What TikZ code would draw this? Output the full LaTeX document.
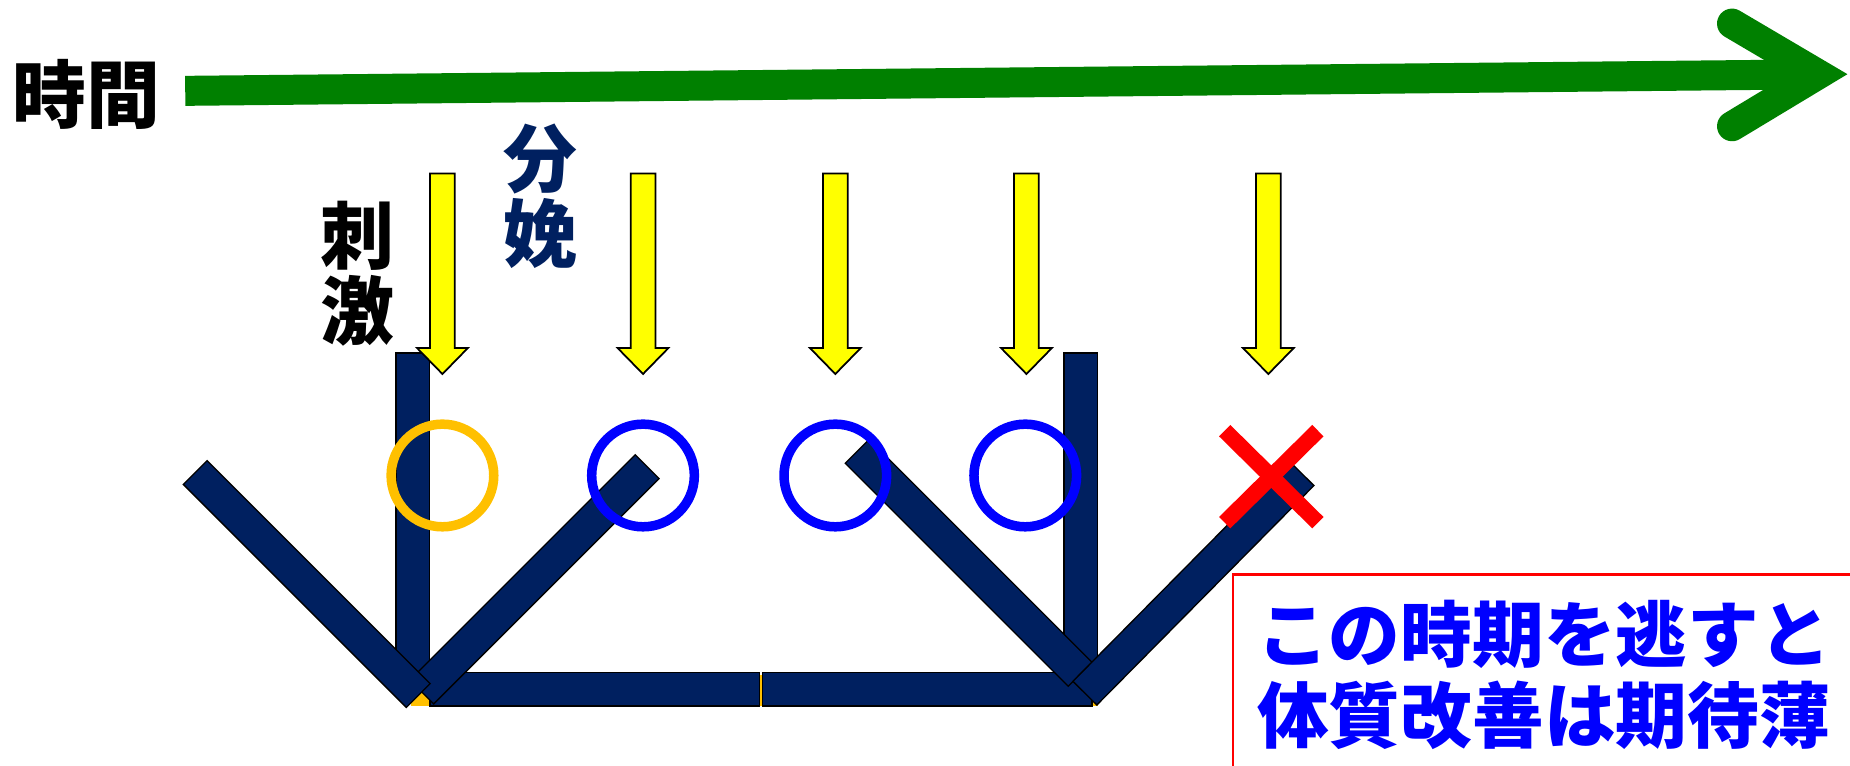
\documentclass[tikz,border=0pt]{standalone}
\usepackage{fontspec}
\newfontfamily\jpfont{Noto Sans CJK JP Black}

\definecolor{marine}{HTML}{002060}
\definecolor{vert}{HTML}{008000}
\definecolor{jaune}{HTML}{FFFF00}
\definecolor{orange}{HTML}{FFC000}
\definecolor{bleu}{HTML}{0000FF}
\definecolor{rouge}{HTML}{FF0000}

\tikzset{
  poutre/.style={line width=3.2mm, marine},
  bordpoutre/.style={line width=3.5mm, black, shorten <=-0.15mm, shorten >=-0.15mm},
  fleche/.style={fill=jaune, draw=black, line width=0.5pt, line join=miter},
  rond/.style={line width=0.95mm},
}

% une poutre : bord noir puis remplissage
\newcommand{\barre}[2]{\draw[bordpoutre] #1 -- #2; \draw[poutre] #1 -- #2;}

\begin{document}
\begin{tikzpicture}[x=0.118mm, y=-0.118mm]

\useasboundingbox (0,0) rectangle (1568,649);

% Axe du temps
\draw[vert, line width=3mm] (157,77) -- (1540,63);
\draw[vert, line width=3mm, line cap=round, line join=miter]
  (1468,20) -- (1541,63) -- (1468,107);
\node[font=\jpfont\fontsize{21}{22}\selectfont, inner sep=0] (temps) at (73,80) {時間};

% Fond orange sous les poutres
\fill[orange] (348,572) rectangle (931,598);

% Poutres horizontales
\barre{(365,584)}{(643,584)}
\barre{(647,584)}{(925,584)}

% Groupe de gauche
\barre{(350,300)}{(350,575)}
\barre{(548,396)}{(358,586)}
\barre{(166,401)}{(354,589)}

% Groupe de droite
\barre{(916,300)}{(916,575)}
\barre{(727,383)}{(915,571)}
\barre{(920,587)}{(1103,402)}

% Flèches jaunes
\foreach \x in {375,545,708,870,1075}
{
\draw[fleche] (\x-10.5,147) -- (\x+10.5,147) -- (\x+10.5,295) -- (\x+21.5,295)
  -- (\x,317) -- (\x-21.5,295) -- (\x-10.5,295) -- cycle;
}

% Cercles
\draw[rond, orange] (375,403) circle (43.5);
\foreach \x in {545,708,869}
{
\draw[rond, bleu] (\x,403) circle (43.5);
}

% Croix
\draw[rouge, line width=1.6mm] (1038,365) -- (1117,443);
\draw[rouge, line width=1.6mm] (1117,365) -- (1038,443);

% Légendes
\node[font=\jpfont\fontsize{21}{21.3}\selectfont, align=center, inner sep=0]
  (stimulus) at (303,232) {刺\\激};
\node[font=\jpfont\fontsize{21}{21.3}\selectfont, align=center, inner sep=0, text=marine]
  (mise) at (458,166) {分\\娩};

% Encadré
\draw[rouge, line width=0.8pt] (1045,487) rectangle (1580,660);
\node[font=\jpfont\fontsize{20.4}{23}\selectfont, align=left, anchor=west,
  inner sep=0, text=bleu] (message) at (1065,572) {この時期を逃すと\\体質改善は期待薄};

\end{tikzpicture}
\end{document}
